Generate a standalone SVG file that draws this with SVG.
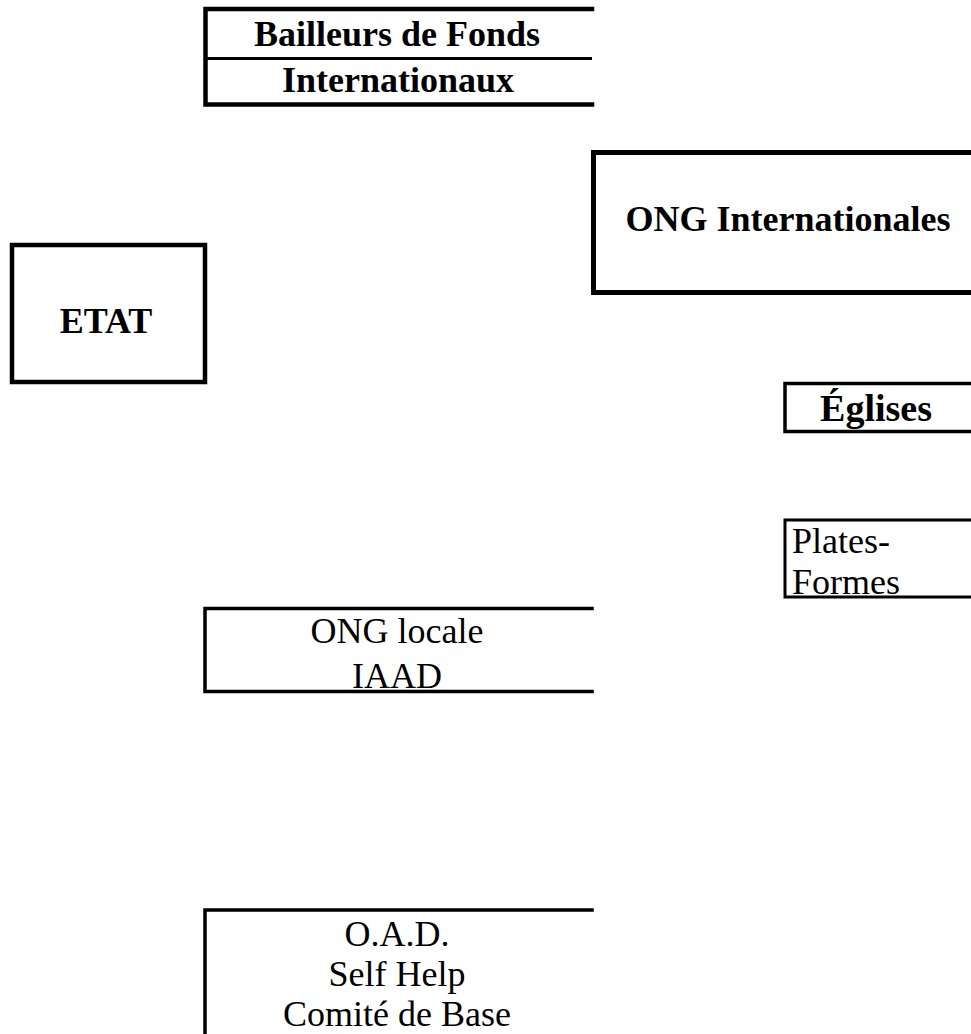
<svg xmlns="http://www.w3.org/2000/svg" width="971" height="1034" viewBox="0 0 971 1034">
<style>
.frame{fill:none;stroke:#000;stroke-linecap:square;stroke-linejoin:miter}
.t{font-family:"Liberation Serif","Times New Roman",serif;font-size:36px;fill:#000}
.b{font-weight:bold}
.c{text-anchor:middle}
</style>
<rect width="971" height="1034" fill="#fff"/>
<g id="connectors"></g>
<g id="bailleurs">
<path class="frame" d="M592,9 H205.5 V104.5 H592" stroke-width="4.5"/>
<line x1="207" y1="58.5" x2="592" y2="58.5" stroke="#000" stroke-width="3"/>
<text class="t b c" x="397" y="46">Bailleurs de Fonds</text>
<text class="t b c" x="398" y="92">Internationaux</text>
</g>
<g id="ong-internationales">
<path class="frame" d="M975,152.5 H593.5 V292.5 H975" stroke-width="5"/>
<text class="t b c" x="788" y="231">ONG Internationales</text>
</g>
<g id="etat">
<rect class="frame" x="12" y="245" width="193" height="137" stroke-width="4.5"/>
<text class="t b c" x="106" y="333">ETAT</text>
</g>
<g id="eglises">
<path class="frame" d="M975,383.5 H785 V431.5 H975" stroke-width="3.5"/>
<text class="t b c" x="876" y="421" style="font-size:38px">Églises</text>
</g>
<g id="plates-formes">
<path class="frame" d="M975,520 H785 V597 H975" stroke-width="3"/>
<text class="t" x="792" y="553">Plates-</text>
<text class="t" x="792" y="594">Formes</text>
</g>
<g id="ong-locale">
<path class="frame" d="M592,608.5 H205 V691.5 H592" stroke-width="3.5"/>
<text class="t c" x="397" y="643">ONG locale</text>
<text class="t c" x="397" y="688">IAAD</text>
</g>
<g id="oad">
<path class="frame" d="M592,910 H205 V1040" stroke-width="3.5"/>
<text class="t c" x="397" y="946">O.A.D.</text>
<text class="t c" x="397" y="986">Self Help</text>
<text class="t c" x="397" y="1026">Comité de Base</text>
</g>
</svg>
